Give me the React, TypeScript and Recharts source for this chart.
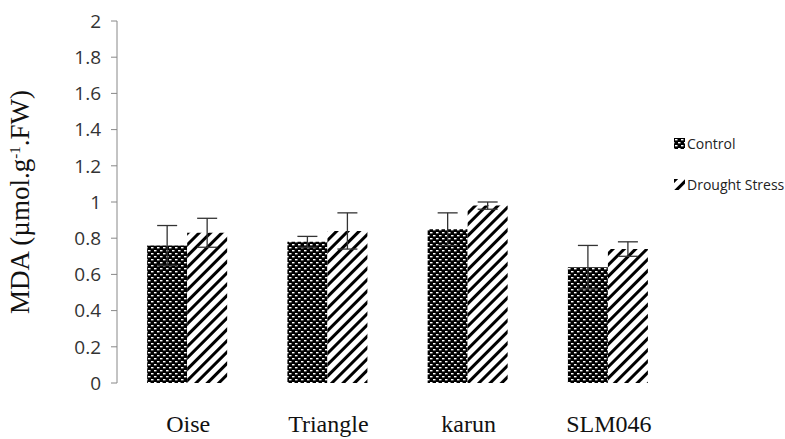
import React from "react"
import { Bar, BarChart, ErrorBar, XAxis, YAxis } from "recharts"

const cultivars = ["Oise", "Triangle", "karun", "SLM046"]
const controlMean = [0.76, 0.78, 0.85, 0.64]
const controlErr = [0.11, 0.03, 0.09, 0.12]
const droughtMean = [0.83, 0.84, 0.98, 0.74]
const droughtErr = [0.08, 0.1, 0.02, 0.04]
const yTicks = [0, 0.2, 0.4, 0.6, 0.8, 1, 1.2, 1.4, 1.6, 1.8, 2]
const seriesNames = ["Control", "Drought Stress"]

const data = cultivars.map((name, i) => ({
  name,
  control: controlMean[i],
  controlErr: controlErr[i],
  drought: droughtMean[i],
  droughtErr: droughtErr[i],
}))

const serif = "'Liberation Serif', 'Times New Roman', serif"
const sans = "'Open Sans', sans-serif"

const YLabel = () => (
  <text
    transform="translate(29, 202) rotate(-90)"
    textAnchor="middle"
    fontFamily={serif}
    fontSize={27}
    fill="#111"
  >
    MDA (µmol.g
    <tspan dy={-9} fontSize={15}>-1</tspan>
    <tspan dy={9}>.FW)</tspan>
  </text>
)

// legend sits outside the svg, the swatches reuse the chart's patterns
const LegendBox = () => (
  <div
    style={{
      position: "absolute",
      left: 674,
      top: 133,
      fontFamily: sans,
      fontSize: 14,
      color: "#222",
      whiteSpace: "nowrap",
    }}
  >
    {seriesNames.map((s, i) => (
      <div key={s} style={{ display: "flex", alignItems: "center", height: 20, marginBottom: 21 }}>
        <svg width={11} height={11} style={{ marginRight: 2 }}>
          <rect width={11} height={11} fill={i === 0 ? "url(#brick)" : "url(#stripes)"} />
        </svg>
        {s}
      </div>
    ))}
  </div>
)

export default function App() {
  return (
    <div style={{ position: "absolute", left: 0, top: 0, width: 785, height: 439, background: "#fff" }}>
      <BarChart
        width={785}
        height={439}
        data={data}
        margin={{ top: 21, right: 107, bottom: 0, left: 49 }}
        barCategoryGap="21.5%"
        barGap={0}
      >
        <defs>
          <pattern id="brick" width={6} height={6} patternUnits="userSpaceOnUse">
            <rect width={6} height={6} fill="#000" />
            <rect x={1} y={1} width={2.5} height={1.4} fill="#fff" />
            <rect x={4} y={4} width={2.5} height={1.4} fill="#fff" />
            <rect x={-2} y={4} width={2.5} height={1.4} fill="#fff" />
          </pattern>
          <pattern
            id="stripes"
            width={8}
            height={8}
            patternUnits="userSpaceOnUse"
            patternTransform="rotate(45)"
          >
            <rect width={8} height={8} fill="#fff" />
            <rect x={0} y={0} width={3} height={8} fill="#000" />
          </pattern>
        </defs>
        <XAxis
          dataKey="name"
          axisLine={false}
          tickLine={false}
          height={56}
          tick={{ fontFamily: serif, fontSize: 24, fill: "#111", dy: 24, dx: 1 }}
        />
        <YAxis
          width={68}
          domain={[0, 2]}
          ticks={yTicks}
          interval={0}
          axisLine={{ stroke: "#888" }}
          tickLine={{ stroke: "#888" }}
          tickSize={6}
          tick={{ fontFamily: sans, fontSize: 19, fill: "#333", dx: -8 }}
          label={<YLabel />}
        />
        <Bar dataKey="control" name="Control" fill="url(#brick)" isAnimationActive={false}>
          <ErrorBar dataKey="controlErr" width={10} stroke="#333" strokeWidth={1.3} />
        </Bar>
        <Bar dataKey="drought" name="Drought Stress" fill="url(#stripes)" isAnimationActive={false}>
          <ErrorBar dataKey="droughtErr" width={10} stroke="#333" strokeWidth={1.3} />
        </Bar>
      </BarChart>
      <LegendBox />
    </div>
  )
}
